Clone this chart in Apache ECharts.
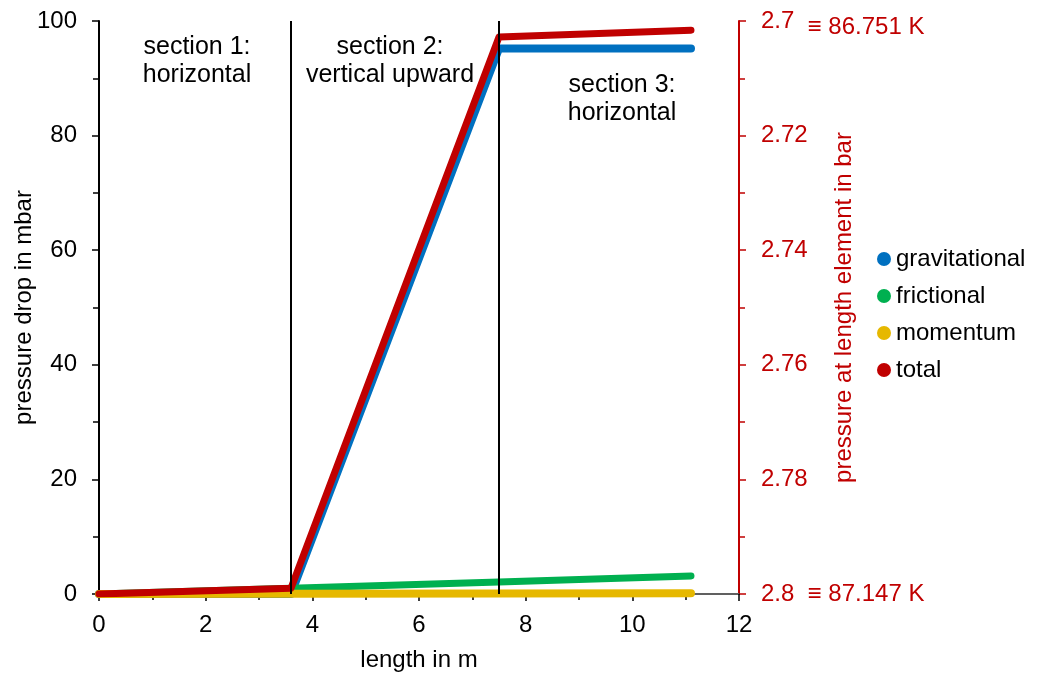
<!DOCTYPE html>
<html>
<head>
<meta charset="utf-8">
<script src="https://cdn.jsdelivr.net/npm/echarts@6/dist/echarts.min.js"></script>
<style>html,body{margin:0;padding:0;background:#fff}#c{width:1038px;height:674px}</style>
</head>
<body>
<div id="c"></div>
<script>
const lengths = [0, 3.6, 7.5, 11.1];
const gravitational = [0, 0, 95.2, 95.2];
const frictional = [0, 1.0, 2.1, 3.15];
const momentum = [0, 0.03, 0.08, 0.12];
const total = [0, 1.0, 97.2, 98.4];
const sectionBounds = [3.6, 7.5];
const seriesNames = ['gravitational', 'frictional', 'momentum', 'total'];
const seriesColors = ['#0070C0', '#00B050', '#E6B800', '#C00000'];
const rightTicks = { 2.7: '2.7{s|  ≡ 86.751 K}', 2.8: '2.8  ≡ 87.147 K' };

const FONT = 'Liberation Sans, Arial, sans-serif';
const pairs = (ys) => lengths.map((x, i) => [x, ys[i]]);

const chart = echarts.init(document.getElementById('c'), null, { renderer: 'canvas' });
const lineSeries = (name, ys, color, width) => ({
  name, type: 'line', data: pairs(ys), showSymbol: false, symbol: 'circle',
  xAxisIndex: 0, yAxisIndex: 0,
  lineStyle: { color, width, cap: 'round', join: 'round' },
  itemStyle: { color }, emphasis: { disabled: true }, animation: false
});
const note = (x, y, text) => ({
  type: 'text', x, y, silent: true,
  style: { text, font: '25px ' + FONT, fill: '#000', align: 'center', verticalAlign: 'top', lineHeight: 28 }
});

chart.setOption({
  animation: false,
  textStyle: { fontFamily: FONT },
  grid: { left: 99, right: 299, top: 21, bottom: 80, containLabel: false, outerBoundsMode: 'none' },
  xAxis: [{
    type: 'value', min: 0, max: 12, interval: 2, position: 'bottom',
    name: 'length in m', nameLocation: 'middle', nameGap: 54, nameMoveOverlap: false,
    nameTextStyle: { color: '#000', fontSize: 24, fontFamily: FONT },
    axisLine: { show: true, onZero: false, lineStyle: { color: '#000', width: 2 } },
    axisTick: { show: true, inside: false, length: 7, lineStyle: { color: '#000', width: 1.5 } },
    minorTick: { show: true, splitNumber: 2, length: 6, lineStyle: { color: '#000', width: 1.5 } },
    axisLabel: { color: '#000', fontSize: 24, margin: 19, fontFamily: FONT },
    splitLine: { show: false }
  }, {
    type: 'value', min: 0, max: 12, position: 'top',
    axisLine: { show: true, lineStyle: { color: '#808080', width: 1.5 } },
    axisTick: { show: false }, axisLabel: { show: false }, splitLine: { show: false }
  }],
  yAxis: [{
    type: 'value', min: 0, max: 100, interval: 20, position: 'left',
    name: 'pressure drop in mbar', nameLocation: 'middle', nameGap: 63, nameMoveOverlap: false,
    nameTextStyle: { color: '#000', fontSize: 24, fontFamily: FONT },
    axisLine: { show: true, onZero: false, lineStyle: { color: '#000', width: 2 } },
    axisTick: { show: true, inside: false, length: 7, lineStyle: { color: '#000', width: 1.5 } },
    minorTick: { show: true, splitNumber: 2, length: 6, lineStyle: { color: '#000', width: 1.5 } },
    axisLabel: { color: '#000', fontSize: 24, margin: 22, fontFamily: FONT },
    splitLine: { show: false }
  }, {
    type: 'value', min: 2.7, max: 2.8, interval: 0.02, inverse: true, position: 'right',
    name: 'pressure at length element in bar', nameLocation: 'middle', nameGap: 93, nameMoveOverlap: false,
    nameTextStyle: { color: '#C00000', fontSize: 24, fontFamily: FONT },
    axisLine: { show: true, onZero: false, lineStyle: { color: '#C00000', width: 2 } },
    axisTick: { show: true, inside: false, length: 7, lineStyle: { color: '#C00000', width: 1.5 } },
    minorTick: { show: true, splitNumber: 2, length: 6, lineStyle: { color: '#C00000', width: 1.5 } },
    axisLabel: {
      color: '#C00000', fontSize: 24, margin: 22, fontFamily: FONT,
      rich: { s: { color: '#C00000', fontSize: 24, fontFamily: FONT, lineHeight: 24, padding: [12, 0, 0, 0] } },
      formatter: (v) => {
        const r = Math.round(v * 100) / 100;
        return rightTicks[r] || String(r);
      }
    },
    splitLine: { show: false }
  }],
  legend: {
    orient: 'vertical', left: 872, top: 242, itemGap: 13,
    itemWidth: 14, itemHeight: 14, icon: 'circle',
    data: seriesNames,
    textStyle: { color: '#000', fontSize: 24, fontFamily: FONT, lineHeight: 24 }
  },
  graphic: [
    note(197, 33, 'section 1:\nhorizontal'),
    note(390, 33, 'section 2:\nvertical upward'),
    note(622, 71, 'section 3:\nhorizontal')
  ],
  series: [
    {
      name: 'sections', type: 'line', data: [], xAxisIndex: 0, yAxisIndex: 0,
      markLine: {
        silent: true, symbol: 'none', animation: false,
        label: { show: false },
        lineStyle: { color: '#000', width: 2, type: 'solid' },
        data: sectionBounds.map(x => ({ xAxis: x }))
      }
    },
    lineSeries(seriesNames[0], gravitational, seriesColors[0], 8),
    lineSeries(seriesNames[1], frictional, seriesColors[1], 7),
    lineSeries(seriesNames[2], momentum, seriesColors[2], 8),
    lineSeries(seriesNames[3], total, seriesColors[3], 7)
  ]
});
</script>
</body>
</html>
